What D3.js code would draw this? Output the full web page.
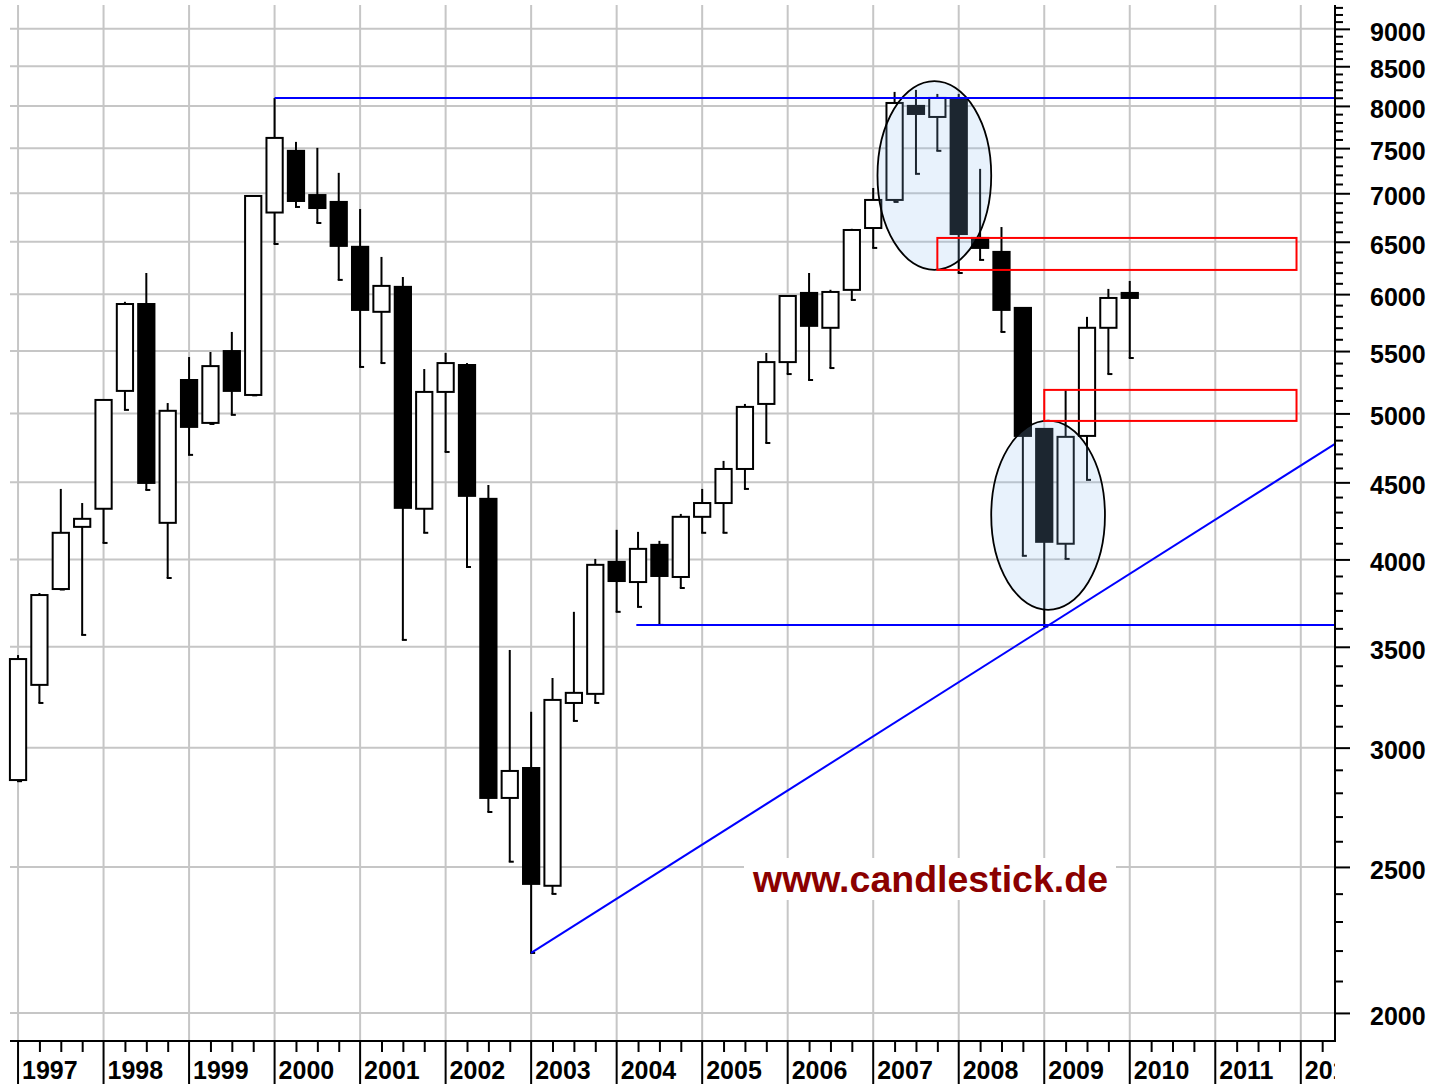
<!DOCTYPE html>
<html>
<head>
<meta charset="utf-8">
<script src="https://cdnjs.cloudflare.com/ajax/libs/d3/7.8.5/d3.min.js"></script>
<style>
  body { margin: 0; background: #fff; }
  svg { display: block; font-family: "Liberation Sans", Arial, sans-serif; }
</style>
</head>
<body>
<div id="chart"></div>
<script>
const width = 1430;
const height = 1084;

// quarterly candles
const quarters = [
  "1997 Q1", "1997 Q2", "1997 Q3", "1997 Q4",
  "1998 Q1", "1998 Q2", "1998 Q3", "1998 Q4",
  "1999 Q1", "1999 Q2", "1999 Q3", "1999 Q4",
  "2000 Q1", "2000 Q2", "2000 Q3", "2000 Q4",
  "2001 Q1", "2001 Q2", "2001 Q3", "2001 Q4",
  "2002 Q1", "2002 Q2", "2002 Q3", "2002 Q4",
  "2003 Q1", "2003 Q2", "2003 Q3", "2003 Q4",
  "2004 Q1", "2004 Q2", "2004 Q3", "2004 Q4",
  "2005 Q1", "2005 Q2", "2005 Q3", "2005 Q4",
  "2006 Q1", "2006 Q2", "2006 Q3", "2006 Q4",
  "2007 Q1", "2007 Q2", "2007 Q3", "2007 Q4",
  "2008 Q1", "2008 Q2", "2008 Q3", "2008 Q4",
  "2009 Q1", "2009 Q2", "2009 Q3", "2009 Q4",
  "2010 Q1"
];
const opens = [
  2855, 3302, 3823, 4204,  4322, 5175, 5910, 4230,  5262, 4928, 5500, 5143,
  6797, 7469, 6981, 6908,  6450, 5840, 6067, 4322,  5167, 5384, 4388, 2778,
  2908, 2429, 3212, 3257,  3985, 3864, 4090, 3894,  4269, 4360, 4593, 5073,
  5408, 6011, 5699, 6039,  6638, 6929, 8000, 7866,  8073, 6538, 6400, 5875,
  4883, 4097, 4831, 5699,  6011
];
const highs = [
  3456, 3800, 4455, 4360,  5110, 5930, 6197, 5080,  5450, 5492, 5663, 6980,
  8098, 7572, 7503, 7222,  6834, 6351, 6160, 5351,  5484, 5400, 4482, 3483,
  3169, 3337, 3692, 4003,  4185, 4172, 4115, 4288,  4455, 4650, 5073, 5484,
  5990, 6197, 6040, 6630,  7057, 8173, 8198, 8148,  8148, 7266, 6648, 5880,
  4890, 5183, 5795, 6048,  6122
];
const lows = [
  2850, 3212, 3820, 3564,  4102, 5027, 4448, 3888,  4693, 4920, 4989, 5140,
  6478, 6855, 6689, 6132,  5368, 5400, 3537, 4166,  4714, 3954, 2719, 2520,
  2192, 2399, 3125, 3212,  3692, 3720, 3619, 3829,  4166, 4166, 4455, 4779,
  5310, 5262, 5359, 5947,  6439, 6908, 7211, 7469,  6197, 6322, 5663, 4022,
  3610, 4003, 4517, 5310,  5442
];
const closes = [
  3435, 3788, 4166, 4256,  5104, 5910, 4496, 5020,  4898, 5375, 5175, 6971,
  7618, 6918, 6844, 6459,  5857, 6076, 4328, 5167,  5400, 4408, 2778, 2895,
  2436, 3227, 3262, 3967,  3870, 4065, 3900, 4269,  4360, 4593, 5050, 5408,
  5983, 5716, 6020, 6618,  6929, 8036, 7902, 8098,  6577, 6439, 5857, 4831,
  4109, 4824, 5699, 5965,  5965
];

// axis labels
const priceTicks = [2000, 2500, 3000, 3500, 4000, 4500, 5000, 5500, 6000, 6500, 7000, 7500, 8000, 8500, 9000];
const yearLabels = d3.range(1997, 2013);

// annotations (time in years, price in points)
const horizontalLines = [
  { from: 2000.0, price: 8098 },
  { from: 2004.23, price: 3619 }
];
const trendPoints = [
  { t: 2003.0, price: 2192 },
  { t: 2009.0, price: 3602 }
];
const ellipses = [
  { t0: 2007.05, t1: 2008.38, top: 8310, bottom: 6226 },
  { t0: 2008.38, t1: 2009.71, top: 4945, bottom: 3703 }
];
const redBoxes = [
  { t0: 2007.75, t1: 2011.95, top: 6538, bottom: 6226 },
  { t0: 2009.0, t1: 2011.95, top: 5183, bottom: 4943 }
];
const watermark = { text: "www.candlestick.de", t: 2007.67, price: 2406 };

const plotLeft = 10, plotRight = 1335, plotTop = 5, plotBottom = 1041;

const x = d3.scaleLinear().domain([1996.906, 2012.4]).range([plotLeft, plotRight]);
const y = d3.scaleLog().domain([1916, 9334]).range([plotBottom, plotTop]);

function quarterTime(q) {
  const parts = q.split(" Q");
  return +parts[0] + (+parts[1] - 1) * 0.25;
}

const svg = d3.select("#chart")
  .append("svg")
  .attr("width", width)
  .attr("height", height);

// grid
function drawGrid() {
  const g = svg.append("g").attr("stroke", "#c6c6c6").attr("stroke-width", 2);
  g.selectAll("line.h")
    .data(priceTicks)
    .enter().append("line")
    .attr("class", "h")
    .attr("x1", plotLeft).attr("x2", plotRight)
    .attr("y1", d => y(d)).attr("y2", d => y(d));
  g.selectAll("line.v")
    .data(yearLabels)
    .enter().append("line")
    .attr("class", "v")
    .attr("x1", d => x(d)).attr("x2", d => x(d))
    .attr("y1", plotTop).attr("y2", plotBottom);
}

function drawCandles() {
  const candles = quarters.map((q, i) => ({
    t: quarterTime(q), o: opens[i], h: highs[i], l: lows[i], c: closes[i]
  }));
  const bodyW = x(0.19) - x(0);

  const g = svg.append("g").attr("stroke", "black").attr("stroke-width", 2);

  g.selectAll("line.wick")
    .data(candles)
    .enter().append("line")
    .attr("class", "wick")
    .attr("x1", d => x(d.t)).attr("x2", d => x(d.t))
    .attr("y1", d => y(d.h)).attr("y2", d => y(d.l));

  // little foot at the low end of the wick
  g.selectAll("line.foot")
    .data(candles)
    .enter().append("line")
    .attr("class", "foot")
    .attr("x1", d => x(d.t) - 1).attr("x2", d => x(d.t) + 4)
    .attr("y1", d => y(d.l)).attr("y2", d => y(d.l));

  g.selectAll("rect.body")
    .data(candles)
    .enter().append("rect")
    .attr("class", "body")
    .attr("x", d => x(d.t) - bodyW / 2)
    .attr("width", bodyW)
    .attr("y", d => y(Math.max(d.o, d.c)))
    .attr("height", d => Math.max(1, Math.abs(y(d.o) - y(d.c))))
    .attr("fill", d => d.c < d.o ? "black" : "white");
}

function drawEllipses() {
  svg.selectAll("ellipse.mark")
    .data(ellipses)
    .enter().append("ellipse")
    .attr("class", "mark")
    .attr("cx", d => (x(d.t0) + x(d.t1)) / 2)
    .attr("cy", d => (y(d.top) + y(d.bottom)) / 2)
    .attr("rx", d => (x(d.t1) - x(d.t0)) / 2)
    .attr("ry", d => (y(d.bottom) - y(d.top)) / 2)
    .attr("fill", "rgb(140,190,240)")
    .attr("fill-opacity", 0.2)
    .attr("stroke", "black")
    .attr("stroke-width", 1.8);
}

function drawWatermark() {
  const g = svg.append("g");
  const bg = g.append("rect").attr("fill", "white");
  const txt = g.append("text")
    .attr("x", x(watermark.t))
    .attr("y", y(watermark.price))
    .attr("text-anchor", "middle")
    .attr("font-size", 37.5)
    .attr("font-weight", "bold")
    .attr("fill", "#8b0000")
    .text(watermark.text);
  const bb = txt.node().getBBox();
  bg.attr("x", bb.x - 8).attr("y", bb.y)
    .attr("width", bb.width + 16).attr("height", bb.height);
}

function drawLines() {
  const g = svg.append("g").attr("stroke", "#0000ff").attr("stroke-width", 2).attr("fill", "none");
  g.selectAll("line.level")
    .data(horizontalLines)
    .enter().append("line")
    .attr("class", "level")
    .attr("x1", d => x(d.from)).attr("x2", plotRight)
    .attr("y1", d => y(d.price)).attr("y2", d => y(d.price));

  // trend line through two lows, extended to the right edge
  const p0 = trendPoints[0], p1 = trendPoints[1];
  const slope = (Math.log(p1.price) - Math.log(p0.price)) / (p1.t - p0.t);
  const tEnd = x.domain()[1];
  const priceEnd = Math.exp(Math.log(p0.price) + slope * (tEnd - p0.t));
  g.append("line")
    .attr("x1", x(p0.t)).attr("y1", y(p0.price))
    .attr("x2", x(tEnd)).attr("y2", y(priceEnd));

  svg.selectAll("rect.box")
    .data(redBoxes)
    .enter().append("rect")
    .attr("class", "box")
    .attr("x", d => x(d.t0))
    .attr("y", d => y(d.top))
    .attr("width", d => x(d.t1) - x(d.t0))
    .attr("height", d => y(d.bottom) - y(d.top))
    .attr("fill", "none")
    .attr("stroke", "#ff0000")
    .attr("stroke-width", 2);
}

function drawAxes() {
  // right price axis
  const minor = d3.range(2000, 9400, 100).filter(v => v % 500 !== 0 && v < y.domain()[1]);
  const minorAxis = svg.append("g")
    .attr("transform", `translate(${plotRight},0)`)
    .call(d3.axisRight(y).tickValues(minor).tickSize(8).tickFormat(""));
  minorAxis.select(".domain").remove();
  minorAxis.selectAll("line").attr("stroke", "black").attr("stroke-width", 2);

  const yAxis = svg.append("g")
    .attr("transform", `translate(${plotRight},0)`)
    .call(d3.axisRight(y).tickValues(priceTicks).tickSize(15).tickPadding(20).tickFormat(d3.format("d")));
  yAxis.select(".domain").remove();
  yAxis.selectAll("line").attr("stroke", "black").attr("stroke-width", 2);
  yAxis.selectAll("text")
    .attr("font-family", "Liberation Sans, Arial, sans-serif")
    .attr("font-size", 25)
    .attr("font-weight", "bold")
    .attr("dy", "0.45em")
    .attr("fill", "black");

  svg.append("line")
    .attr("x1", plotRight).attr("x2", plotRight)
    .attr("y1", plotTop).attr("y2", plotBottom + 1)
    .attr("stroke", "black").attr("stroke-width", 2);

  // time axis
  const quarterTicks = d3.range(1997, 2012.5, 0.25).filter(t => t % 1 !== 0 && t < x.domain()[1]);
  const qAxis = svg.append("g")
    .attr("transform", `translate(0,${plotBottom})`)
    .call(d3.axisBottom(x).tickValues(quarterTicks).tickSize(11).tickFormat(""));
  qAxis.select(".domain").remove();
  qAxis.selectAll("line").attr("stroke", "black").attr("stroke-width", 2);

  svg.append("line")
    .attr("x1", plotLeft).attr("x2", plotRight + 1)
    .attr("y1", plotBottom).attr("y2", plotBottom)
    .attr("stroke", "black").attr("stroke-width", 2);

  svg.append("clipPath").attr("id", "xclip")
    .append("rect").attr("x", 0).attr("y", plotBottom).attr("width", plotRight).attr("height", height - plotBottom);

  const years = svg.append("g").attr("clip-path", "url(#xclip)");
  years.selectAll("line")
    .data(yearLabels)
    .enter().append("line")
    .attr("x1", d => x(d)).attr("x2", d => x(d))
    .attr("y1", plotBottom).attr("y2", height)
    .attr("stroke", "black").attr("stroke-width", 2);
  years.selectAll("text")
    .data(yearLabels)
    .enter().append("text")
    .attr("x", d => x(d) + 4)
    .attr("y", 1079)
    .attr("font-size", 25)
    .attr("font-weight", "bold")
    .text(d => d);
}

drawGrid();
drawCandles();
drawEllipses();
drawWatermark();
drawLines();
drawAxes();
</script>
</body>
</html>
